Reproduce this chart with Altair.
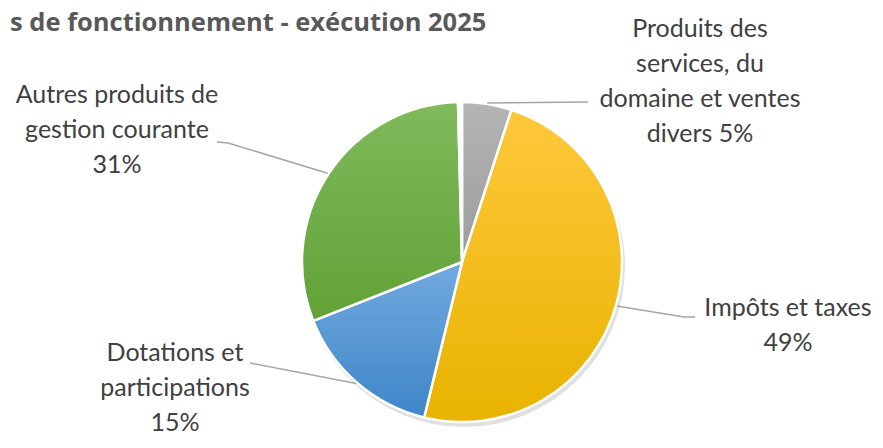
import math
import altair as alt
import pandas as pd

# ---- data ----
categories = [
    "Produits des services, du domaine et ventes divers",
    "Impôts et taxes",
    "Dotations et participations",
    "Autres produits de gestion courante",
    "Autres",
]
values = [5.0, 48.8, 15.2, 30.6, 0.4]
label_wrapped = [
    "Produits des\nservices, du\ndomaine et ventes\ndivers",
    "Impôts et taxes",
    "Dotations et\nparticipations",
    "Autres produits de\ngestion courante",
    "",
]
pct_joiner = [" ", "\n", "\n", "\n", ""]
title_text = "s de fonctionnement - exécution 2025"

# ---- styles / layout ----
color_top = ["#B4B4B4", "#FFC83C", "#72A9DF", "#80BA5C", "#FFFFFF"]
color_bottom = ["#9C9C9C", "#E8B300", "#3F86C9", "#61A236", "#F4F4F4"]
W, H = 867, 432
CX, CY, R = 454, 254, 160
FONT = "Lato"
FS = 25
LH = 35
label_pos = [(692, 29), (780, 308), (167, 353), (109, 95), None]
leader_ends = [
    [(580, 94)],
    [(676, 309), (687, 309)],
    [(242, 355)],
    [(220, 135), (209, 134)],
    None,
]

total = sum(values)
df = pd.DataFrame({"category": categories, "value": values, "k": list(range(len(categories)))})
theta_scale = alt.Scale(domain=[0, total], range=[0, 2 * math.pi])

base = (
    alt.Chart(df)
    .transform_window(end="sum(value)", sort=[alt.SortField("k")])
    .transform_calculate(start="datum.end - datum.value")
)

layers = []

# soft shadow under the pie
shadow = (
    alt.Chart(pd.DataFrame({"v": [total]}))
    .mark_arc(radius=R + 1, color="#000000", opacity=0.12)
    .encode(theta=alt.Theta("v:Q", scale=theta_scale), x=alt.value(CX + 2), y=alt.value(CY + 4))
)
layers.append(shadow)

for i in range(len(categories)):
    grad = alt.LinearGradient(
        gradient="linear", x1=0, y1=0, x2=0, y2=1,
        stops=[alt.GradientStop(offset=0, color=color_top[i]),
               alt.GradientStop(offset=1, color=color_bottom[i])],
    )
    layers.append(
        base.transform_filter(alt.datum.k == i)
        .mark_arc(radius=R, fill=grad, stroke="white", strokeWidth=2.5)
        .encode(
            theta=alt.Theta("start:Q", scale=theta_scale, stack=False),
            theta2="end:Q",
            x=alt.value(CX),
            y=alt.value(CY),
            tooltip=["category:N", "value:Q"],
        )
    )

# labels and leader lines (start points derived from slice mid-angles)
label_rows = []
line_rows = []
cum = 0.0
for i, v in enumerate(values):
    mid = (cum + v / 2) / total * 2 * math.pi
    cum += v
    if not label_wrapped[i]:
        continue
    pct = round(v / total * 100)
    text = label_wrapped[i] + pct_joiner[i] + f"{pct}%"
    lx, ly = label_pos[i]
    label_rows.append({"text": text, "x": lx, "y": ly})
    pts = [(CX + (R + 1) * math.sin(mid), CY - (R + 1) * math.cos(mid))] + leader_ends[i]
    for j, (px, py) in enumerate(pts):
        line_rows.append({"lab": categories[i], "o": j, "x": px, "y": py})

lines = (
    alt.Chart(pd.DataFrame(line_rows))
    .mark_line(color="#A6A6A6", strokeWidth=1.5)
    .encode(
        x=alt.X("x:Q", scale=None),
        y=alt.Y("y:Q", scale=None),
        detail="lab:N",
        order="o:Q",
    )
)
layers.append(lines)

labels = (
    alt.Chart(pd.DataFrame(label_rows))
    .mark_text(font=FONT, fontSize=FS, color="#404040", align="center",
               baseline="alphabetic", lineBreak="\n", lineHeight=LH)
    .encode(x=alt.X("x:Q", scale=None), y=alt.Y("y:Q", scale=None), text="text:N")
)
layers.append(labels)

title = (
    alt.Chart(pd.DataFrame({"t": [title_text]}))
    .mark_text(font="Open Sans", fontSize=25.5, fontWeight="bold", color="#595959",
               align="left", baseline="alphabetic")
    .encode(x=alt.value(2), y=alt.value(23), text="t:N")
)
layers.append(title)

chart = (
    alt.layer(*layers)
    .properties(width=W, height=H, autosize=alt.AutoSizeParams(type="none"), padding=0)
    .configure_view(stroke=None)
)

chart.save("out.html", embed_options={"renderer": "svg", "actions": False})
